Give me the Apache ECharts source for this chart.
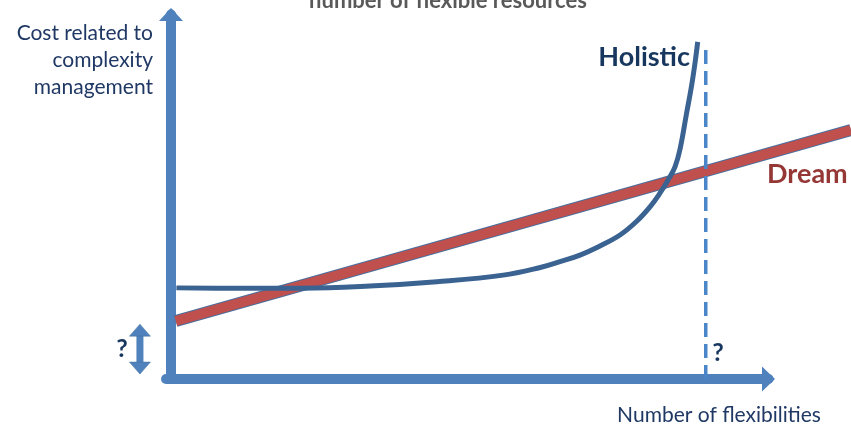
<!DOCTYPE html>
<html>
<head>
<meta charset="utf-8">
<script src="https://cdn.jsdelivr.net/npm/echarts@6/dist/echarts.min.js"></script>
<style>
  html, body { margin: 0; padding: 0; background: #ffffff; }
  #chart { width: 851px; height: 425px; }
</style>
</head>
<body>
<div id="chart"></div>
<script>
// ---- data (abstract units: x 0..100 along the axis, y 0..100 along the axis) ----
const holisticX = [0.9, 11, 22, 33.3, 44.5, 55.6, 61.8, 65.1, 68.45, 71.8, 75.15, 77.9, 80.2, 81.8, 83.2, 84.35, 85.2, 86.3, 87.1, 87.7, 88.15];
const holisticY = [25.0, 24.9, 24.9, 25.5, 26.7, 28.5, 30.6, 32.2, 34.0, 36.5, 39.5, 43.2, 47.3, 50.9, 54.6, 58.2, 63.1, 73.0, 80.2, 86.7, 92.5];
const dreamX = [0.8, 113.8];
const dreamY = [15.9, 68.3];
const limitX = [89.5, 89.5];
const limitY = [0, 91.6];
const gapX = [-5.2, -5.2];
const gapY = [13.4, 3.0];
const yAxisTitle = ['Cost related to', 'complexity', 'management'];
const xAxisTitle = 'Number of flexibilities';
const topTitle = 'number of flexible resources';
const holisticLabel = 'Holistic';
const dreamLabel = 'Dream';

const zip = (xs, ys) => xs.map((x, i) => [x, ys[i]]);

// ---- layout ----
const W = 851, H = 425;
const AX_LEFT = 171, AX_RIGHT = 82.5, AX_TOP = 14.5, AX_BOTTOM = 46;
const AX_W = 10;
const PX = (W - AX_LEFT - AX_RIGHT) / 100;   // pixels per x unit
const PY = (H - AX_TOP - AX_BOTTOM) / 100;   // pixels per y unit

const FONT = 'Lato';
const NAVY = '#1F3864';
const AXIS = '#4F81BD';

const hiddenAxis = { show: false };

const chart = echarts.init(document.getElementById('chart'), null, { renderer: 'canvas' });
chart.setOption({
  animation: false,
  backgroundColor: '#ffffff',
  grid: [
    { left: AX_LEFT - AX_W / 2, right: AX_RIGHT, top: AX_TOP, bottom: AX_BOTTOM, containLabel: false },
    { left: 0, right: 0, top: 0, bottom: 0, containLabel: false }
  ],
  xAxis: [
    {
      gridIndex: 0, type: 'value', min: 0, max: 100,
      axisLine: { onZero: false, symbol: ['none', 'triangle'], symbolSize: [25, 13],
        lineStyle: { color: AXIS, width: AX_W } },
      axisTick: { show: false }, axisLabel: { show: false }, splitLine: { show: false }
    },
    {
      gridIndex: 1, type: 'value', min: -AX_LEFT / PX, max: (W - AX_LEFT) / PX,
      axisLine: hiddenAxis, axisTick: hiddenAxis, axisLabel: hiddenAxis, splitLine: hiddenAxis
    }
  ],
  yAxis: [
    {
      gridIndex: 0, type: 'value', min: 0, max: 100, offset: -AX_W / 2,
      axisLine: { onZero: false, symbol: ['none', 'triangle'], symbolSize: [24, 13],
        lineStyle: { color: AXIS, width: AX_W } },
      axisTick: { show: false }, axisLabel: { show: false }, splitLine: { show: false }
    },
    {
      gridIndex: 1, type: 'value', min: -AX_BOTTOM / PY, max: (H - AX_BOTTOM) / PY,
      axisLine: hiddenAxis, axisTick: hiddenAxis, axisLabel: hiddenAxis, splitLine: hiddenAxis
    }
  ],
  series: [
    {
      name: 'dreamBorder', type: 'line', xAxisIndex: 1, yAxisIndex: 1,
      data: zip(dreamX, dreamY), showSymbol: false, symbol: 'none', z: 3,
      lineStyle: { color: '#4A6E9C', width: 12 }
    },
    {
      name: 'Dream', type: 'line', xAxisIndex: 1, yAxisIndex: 1,
      data: zip(dreamX, dreamY), showSymbol: false, symbol: 'none', z: 4,
      lineStyle: { color: '#C0504D', width: 10 }
    },
    {
      name: 'limit', type: 'line', xAxisIndex: 1, yAxisIndex: 1,
      data: zip(limitX, limitY), showSymbol: false, symbol: 'none', z: 5,
      lineStyle: { color: '#4A86C8', width: 3.5, type: [14, 7] }
    },
    {
      name: 'Holistic', type: 'line', xAxisIndex: 1, yAxisIndex: 1,
      data: zip(holisticX, holisticY), showSymbol: false, symbol: 'none',
      smooth: 0.4, z: 6,
      lineStyle: { color: '#3B6392', width: 5 }
    },
    {
      name: 'gap', type: 'line', xAxisIndex: 1, yAxisIndex: 1, z: 6,
      data: [
        { value: [gapX[0], gapY[0]], symbolRotate: 0 },
        { value: [gapX[1], gapY[1]], symbolRotate: 180 }
      ],
      symbol: 'triangle', symbolSize: [21, 12], showSymbol: true,
      itemStyle: { color: AXIS, borderColor: '#41719C', borderWidth: 0.5 },
      lineStyle: { color: AXIS, width: 7 }
    }
  ],
  graphic: [
    { type: 'text', x: 448, y: 1, style: { text: topTitle, font: 'bold 22px ' + FONT, fill: '#595959', align: 'center', verticalAlign: 'middle' } },
    { type: 'text', x: 153, y: 20, style: { text: yAxisTitle.join('\n'), font: '21px ' + FONT, lineHeight: 27, fill: NAVY, align: 'right', verticalAlign: 'top' } },
    { type: 'text', x: 719, y: 415, style: { text: xAxisTitle, font: '21px ' + FONT, fill: NAVY, align: 'center', verticalAlign: 'middle' } },
    { type: 'text', x: 690, y: 57, style: { text: holisticLabel, font: 'bold 27px ' + FONT, fill: '#17375E', align: 'right', verticalAlign: 'middle' } },
    { type: 'text', x: 767, y: 174, style: { text: dreamLabel, font: 'bold 27px ' + FONT, fill: '#953735', align: 'left', verticalAlign: 'middle' } },
    { type: 'text', x: 122, y: 349, style: { text: '?', font: 'bold 25px ' + FONT, fill: '#17375E', align: 'center', verticalAlign: 'middle' } },
    { type: 'text', x: 718, y: 353, style: { text: '?', font: 'bold 25px ' + FONT, fill: '#17375E', align: 'center', verticalAlign: 'middle' } }
  ]
});
</script>
</body>
</html>
